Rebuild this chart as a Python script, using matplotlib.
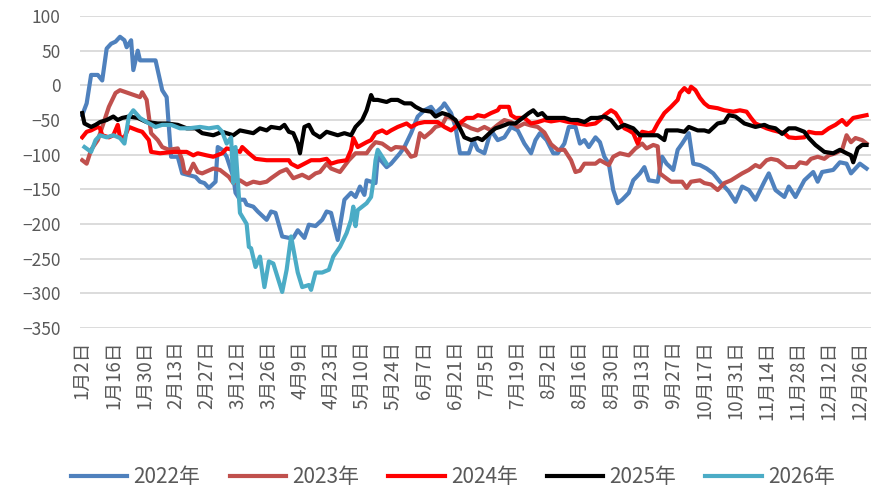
import matplotlib
matplotlib.use("Agg")
import matplotlib.pyplot as plt

plt.rcParams["font.family"] = ["Noto Sans CJK SC", "DejaVu Sans"]

# category ticks: every 14th trading day
tick_pos = list(range(0, 351, 14))
tick_labels = ["1月2日", "1月16日", "1月30日", "2月13日", "2月27日", "3月12日",
               "3月26日", "4月9日", "4月23日", "5月10日", "5月24日", "6月7日",
               "6月21日", "7月5日", "7月19日", "8月2日", "8月16日", "8月30日",
               "9月13日", "9月27日", "10月17日", "10月31日", "11月14日",
               "11月28日", "12月12日", "12月26日"]

# 2022
d22 = [0, 2, 4, 7, 9, 11, 13, 15, 17, 19, 20, 22, 23, 25, 26, 33, 36, 38, 40, 43,
       45, 51, 53, 55, 57, 60, 61, 63, 65, 68, 69, 71, 73, 74, 77, 79, 83, 85, 87, 90,
       93, 95, 97, 100, 102, 105, 108, 110, 112, 115, 118, 121, 123, 125, 127, 128,
       132, 133, 137, 139, 143, 145, 148, 151, 154, 157, 159, 162, 163, 166, 168,
       170, 174, 176, 178, 181, 184, 187, 190, 193, 196, 199, 202, 204, 206, 209,
       212, 214, 217, 219, 222, 224, 226, 228, 231, 233, 235, 237, 239, 241, 243,
       246, 248, 251, 253, 255, 259, 261, 263, 266, 268, 270, 273, 275, 278, 281,
       284, 287, 291, 294, 297, 300, 303, 307, 309, 312, 316, 318, 321, 325, 329,
       331, 333, 338, 341, 344, 346, 350, 353]
v22 = [-43, -26, 15, 15, 7, 53, 60, 63, 70, 65, 55, 65, 22, 50, 36, 36, -7, -17, -103, -103,
       -127, -132, -139, -141, -148, -139, -89, -93, -103, -132, -155, -165, -165, -172,
       -175, -182, -194, -182, -184, -218, -220, -220, -209, -220, -201, -203, -194,
       -182, -184, -223, -165, -155, -161, -146, -158, -137, -141, -103, -118, -113,
       -98, -89, -69, -45, -36, -31, -40, -31, -26, -40, -60, -98, -98, -79, -93, -98,
       -65, -79, -75, -60, -65, -84, -98, -79, -69, -79, -98, -98, -84, -60, -60, -84,
       -79, -89, -75, -82, -103, -113, -151, -170, -165, -155, -137, -127, -118, -137,
       -139, -103, -113, -122, -93, -84, -69, -113, -115, -120, -127, -139, -153,
       -168, -146, -151, -165, -139, -127, -151, -161, -146, -161, -137, -125, -139,
       -125, -122, -111, -113, -127, -113, -120]

# 2023
d23 = [0, 2, 4, 7, 9, 12, 15, 17, 26, 27, 29, 31, 34, 36, 39, 43, 45, 46, 48, 50, 52,
       54, 59, 62, 64, 66, 68, 71, 74, 77, 80, 83, 85, 89, 92, 95, 99, 102, 105, 107,
       110, 112, 116, 120, 123, 128, 130, 132, 135, 139, 141, 145, 148, 150, 152, 154,
       157, 159, 162, 164, 166, 169, 172, 175, 178, 181, 184, 187, 190, 193, 196, 199,
       202, 205, 208, 211, 214, 217, 220, 222, 224, 226, 231, 233, 237, 239, 242, 246,
       249, 252, 254, 257, 259, 260, 262, 265, 270, 272, 274, 278, 280, 283, 286, 289,
       292, 297, 300, 303, 305, 308, 310, 313, 317, 321, 323, 326, 328, 331, 334, 336,
       339, 342, 344, 346, 348, 351, 353]
v23 = [-108, -113, -93, -79, -60, -31, -11, -7, -17, -10, -21, -69, -79, -89, -93, -91,
       -108, -125, -127, -113, -125, -127, -120, -122, -127, -132, -141, -137, -143,
       -139, -141, -139, -134, -125, -121, -134, -129, -134, -127, -125, -113, -120,
       -125, -108, -98, -98, -89, -82, -84, -93, -89, -90, -103, -101, -69, -75, -67,
       -60, -57, -45, -47, -55, -57, -62, -65, -60, -65, -57, -50, -53, -60, -55, -58,
       -60, -68, -85, -93, -93, -108, -125, -123, -113, -113, -108, -115, -103, -98,
       -101, -91, -84, -91, -86, -88, -127, -132, -139, -139, -148, -139, -137, -141,
       -143, -151, -141, -137, -127, -122, -115, -118, -108, -106, -108, -118, -118,
       -111, -113, -106, -103, -106, -101, -98, -93, -72, -82, -76, -79, -84]

# 2024
d24 = [0, 2, 4, 7, 8, 9, 12, 14, 16, 17, 19, 21, 25, 27, 30, 31, 35, 41, 47, 50, 52,
       56, 59, 63, 65, 68, 71, 72, 75, 78, 83, 93, 94, 97, 100, 103, 107, 110, 112, 115,
       119, 121, 122, 124, 128, 130, 132, 135, 137, 139, 142, 146, 148, 151, 154, 160,
       163, 166, 169, 173, 176, 178, 181, 184, 187, 188, 192, 193, 195, 199, 202, 205,
       208, 211, 215, 219, 223, 227, 231, 233, 235, 238, 240, 242, 244, 246, 248, 250,
       252, 255, 257, 259, 260, 262, 265, 268, 269, 271, 273, 274, 276, 278, 280, 282,
       286, 289, 293, 296, 299, 301, 303, 308, 311, 316, 318, 321, 325, 327, 330, 333,
       336, 339, 342, 344, 347, 350, 353]
v24 = [-75, -67, -65, -60, -62, -72, -75, -72, -57, -75, -75, -60, -65, -67, -79, -96,
       -98, -96, -96, -101, -98, -101, -103, -98, -91, -93, -96, -89, -98, -106, -108,
       -108, -113, -118, -113, -108, -108, -106, -113, -110, -108, -93, -76, -89, -82,
       -79, -69, -65, -69, -65, -60, -55, -60, -55, -53, -53, -60, -65, -57, -47, -47,
       -43, -45, -40, -36, -31, -31, -43, -47, -47, -55, -53, -50, -52, -50, -53, -55,
       -57, -55, -50, -43, -36, -40, -50, -62, -65, -69, -84, -67, -69, -67, -55, -50,
       -40, -31, -21, -11, -4, -10, -2, -7, -18, -26, -31, -33, -36, -38, -36, -38, -47,
       -55, -62, -65, -69, -75, -76, -75, -67, -69, -69, -62, -57, -50, -57, -47, -45,
       -43]

# 2025
d25 = [0, 1, 4, 6, 8, 11, 14, 16, 18, 21, 25, 29, 34, 38, 43, 47, 51, 54, 59, 63, 65,
       68, 71, 74, 77, 80, 83, 85, 89, 91, 93, 95, 97, 98, 100, 102, 104, 107, 110,
       112, 115, 118, 121, 123, 126, 128, 130, 131, 133, 137, 139, 142, 145, 148, 150,
       153, 157, 159, 162, 165, 168, 170, 172, 175, 178, 180, 184, 186, 188, 192, 195,
       197, 201, 203, 205, 207, 209, 217, 220, 223, 226, 229, 232, 235, 238, 241, 244,
       248, 251, 259, 262, 263, 268, 271, 273, 277, 280, 282, 286, 289, 291, 294, 298,
       300, 303, 307, 309, 312, 315, 318, 321, 325, 327, 330, 334, 338, 341, 344, 346,
       347, 349, 351, 353]
v25 = [-40, -55, -60, -57, -53, -50, -45, -50, -47, -45, -47, -53, -55, -55, -57, -62,
       -62, -69, -72, -67, -69, -72, -65, -67, -69, -62, -65, -60, -62, -57, -67, -69,
       -84, -98, -60, -57, -69, -75, -67, -69, -72, -69, -72, -60, -50, -36, -14, -21,
       -21, -24, -21, -21, -26, -26, -31, -36, -38, -45, -40, -43, -50, -62, -75, -79,
       -76, -79, -67, -62, -60, -55, -55, -50, -40, -36, -43, -40, -47, -47, -50, -50,
       -53, -47, -47, -45, -50, -62, -57, -62, -72, -72, -79, -65, -65, -67, -60, -65,
       -65, -67, -55, -53, -43, -45, -55, -57, -60, -57, -60, -62, -70, -62, -62, -67,
       -76, -86, -96, -98, -93, -98, -101, -111, -91, -86, -86]

# 2026
d26 = [1, 4, 6, 8, 11, 14, 17, 19, 21, 23, 26, 29, 33, 36, 40, 44, 48, 53, 57, 61, 63,
       65, 67, 68, 69, 71, 74, 75, 76, 78, 80, 82, 84, 86, 90, 92, 94, 97, 99, 102,
       103, 105, 108, 111, 113, 116, 119, 121, 122, 123, 124, 128, 130, 131, 132, 133,
       135, 137]
v26 = [-89, -96, -79, -72, -75, -72, -76, -84, -45, -36, -47, -53, -60, -57, -57, -62,
       -62, -60, -62, -60, -67, -84, -75, -141, -89, -184, -200, -233, -235, -262,
       -247, -291, -254, -257, -298, -266, -218, -270, -291, -288, -295, -270, -270,
       -266, -247, -233, -213, -194, -175, -203, -180, -170, -161, -139, -108, -93,
       -103, -113]

years = ["2022年", "2023年", "2024年", "2025年", "2026年"]
colors = ["#4F81BD", "#C0504D", "#FF0000", "#000000", "#4BACC6"]
series = [(d22, v22), (d23, v23), (d24, v24), (d25, v25), (d26, v26)]

fig = plt.figure(figsize=(8.71, 4.92), dpi=100)
ax = fig.add_axes([80 / 871, 164 / 492, 791 / 871, 312 / 492])

for (x, y), name, c in zip(series, years, colors):
    ax.plot(x, y, color=c, lw=3, label=name, solid_joinstyle="round")

ax.set_ylim(-350, 100)
ax.set_yticks(range(-350, 101, 50))
ax.set_xlim(-1, 355)
ax.set_xticks(tick_pos)
ax.set_xticklabels(tick_labels, rotation=90)
ax.tick_params(axis="both", length=0, colors="#595959")
ax.tick_params(axis="x", pad=9, labelsize=13.5)
ax.tick_params(axis="y", pad=14, labelsize=12.5)
ax.grid(axis="y", color="#D9D9D9", lw=1.3)
ax.set_axisbelow(True)
for s in ax.spines.values():
    s.set_visible(False)

leg = fig.legend(loc="center", bbox_to_anchor=(0.52, 0.03), ncol=5, frameon=False,
                 fontsize=15, handlelength=2.7, columnspacing=1.4, handletextpad=0.3)
for t in leg.get_texts():
    t.set_color("#595959")

fig.savefig("out.png", dpi=100)
